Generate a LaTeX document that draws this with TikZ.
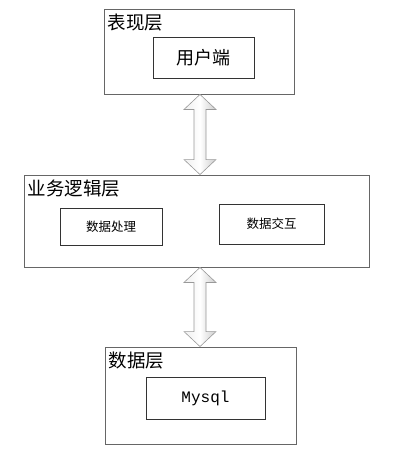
\documentclass[tikz,border=0pt]{standalone}
\usepackage{fontspec}
\setmainfont{Noto Sans CJK SC}
\setmonofont{Liberation Mono}
\usepackage{tikz}
\usetikzlibrary{calc,positioning}

\begin{document}
\begin{tikzpicture}[
    x=1pt, y=-1pt,
    layerbox/.style={rectangle, draw=gray!80!black, line width=0.9pt, fill=white, inner sep=0pt},
    partbox/.style={rectangle, draw=black!80, line width=0.9pt, inner sep=0pt},
    layertitle/.style={anchor=north west, inner sep=0pt, font=\fontsize{18.5}{21}\selectfont},
    bigarrow/.style={draw=gray!80, line width=0.6pt, left color=gray!12, right color=gray!40, middle color=white}
]
\useasboundingbox (0,0) rectangle (394,463);

% layers
\node[layerbox, minimum width=190pt, minimum height=85pt] (pres)  at (199,51.5)  {};
\node[layerbox, minimum width=345pt, minimum height=92pt] (logic) at (196.5,221) {};
\node[layerbox, minimum width=191pt, minimum height=97pt] (data)  at (200.5,395.5) {};

\node[layertitle] (prestitle)  at ($(pres.north west)+(4,5)$)  {表现层};
\node[layertitle] (logictitle) at ($(logic.north west)+(4,5)$) {业务逻辑层};
\node[layertitle] (datatitle)  at ($(data.north west)+(4,5)$)  {数据层};

% parts
\node[partbox, minimum width=101pt, minimum height=41pt, font=\fontsize{18}{20}\selectfont] (user) at (203.5,57.5) {用户端};
\node[partbox, minimum width=102pt, minimum height=37pt, font=\fontsize{12.5}{14}\selectfont] (proc) at (111,226.5) {数据处理};
\node[partbox, minimum width=105pt, minimum height=40pt, font=\fontsize{12.5}{14}\selectfont] (inter) at (271.5,224) {数据交互};
\node[partbox, minimum width=119pt, minimum height=42pt, font=\ttfamily\fontsize{16}{18}\selectfont] (mysql) at (205.5,398) {Mysql};

% arrows between layers
\coordinate (a1) at ($(pres.south)+(1,0)$);
\coordinate (b1) at (a1 |- logic.north);
\coordinate (a2) at (a1 |- logic.south);
\coordinate (b2) at (a1 |- data.north);
\foreach \t/\b in {a1/b1, a2/b2}{
  \draw[bigarrow] (\t) -- ($(\t)+(16,15)$) -- ($(\t)+(6,15)$) -- ($(\b)+(6,-15)$)
    -- ($(\b)+(16,-15)$) -- (\b) -- ($(\b)+(-16,-15)$) -- ($(\b)+(-6,-15)$)
    -- ($(\t)+(-6,15)$) -- ($(\t)+(-16,15)$) -- cycle;
}
\end{tikzpicture}
\end{document}
